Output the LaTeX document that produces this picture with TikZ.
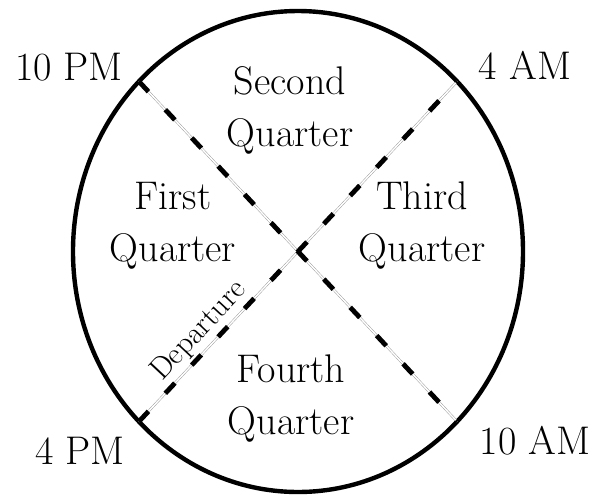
\documentclass[tikz,border=0pt]{standalone}
\usepackage{tikz}
\usetikzlibrary{calc}
\begin{document}
\begin{tikzpicture}[x=0.75pt,y=-0.75pt,
  rim/.style={line width=3.3pt},
  rail/.style={draw=gray!80,line width=0.35pt,double=white,double distance=1.1pt},
  ties/.style={line width=3.6pt,dash pattern=on 10.5pt off 18.5pt},
  quarter/.style={align=center,inner sep=0pt,font=\fontsize{30}{39}\selectfont},
  hour/.style={anchor=base,inner sep=0pt,font=\fontsize{30}{36}\selectfont}]
\useasboundingbox (0,0) rectangle (597,497);
\coordinate (c) at (298,251.5);
\draw[rim] (c) ellipse [x radius=225,y radius=240.5];
\coordinate (t10pm) at ($(c)+(225:225 and 240.5)$);
\coordinate (t4am) at ($(c)+(315:225 and 240.5)$);
\coordinate (t10am) at ($(c)+(45:225 and 240.5)$);
\coordinate (t4pm) at ($(c)+(135:225 and 240.5)$);
\draw[rail] (t10pm) -- (t10am);
\draw[rail] (t4pm) -- (t4am) node[pos=0.23,sloped,above=3pt,inner sep=0pt,text=black,font=\fontsize{23}{27}\selectfont] (dep) {Departure};
\draw[ties] (t10pm) -- (t10am);
\draw[ties] (t4pm) -- (t4am);
\node[quarter] (q2) at (290,110.5) {Second\\Quarter};
\node[quarter] (q1) at (173,225.5) {First\\Quarter};
\node[quarter] (q3) at (422,225.5) {Third\\Quarter};
\node[quarter] (q4) at (291,399) {Fourth\\Quarter};
\node[hour] (h10pm) at (69,80) {10 PM};
\node[hour] (h4am) at (525,79) {4 AM};
\node[hour] (h4pm) at (80,464) {4 PM};
\node[hour] (h10am) at (535,454) {10 AM};
\end{tikzpicture}
\end{document}
